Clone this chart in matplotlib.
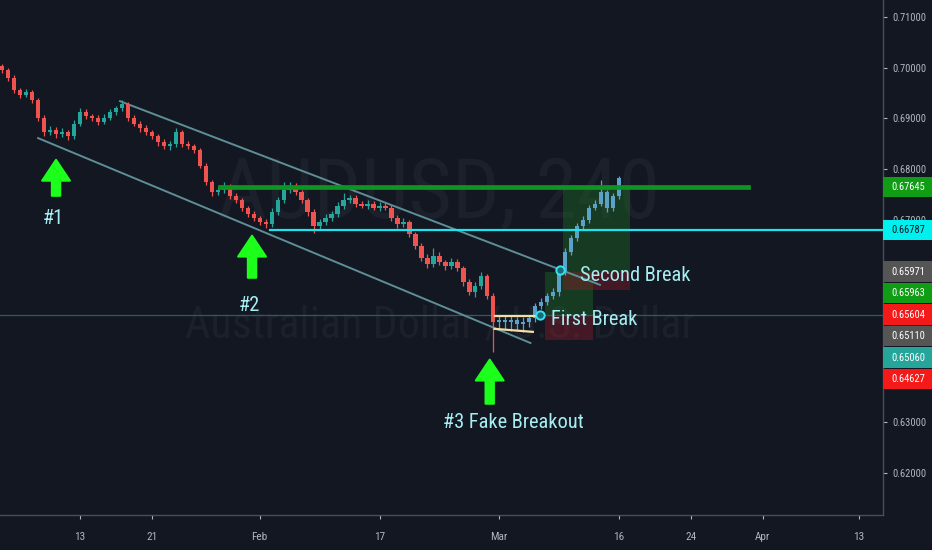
import numpy as np
import matplotlib
matplotlib.use("Agg")
import matplotlib.pyplot as plt
from matplotlib.patches import Rectangle
from matplotlib.transforms import blended_transform_factory

FONTS = ['Roboto Condensed', 'DejaVu Sans']
plt.rcParams['font.family'] = FONTS
plt.rcParams['font.stretch'] = 'condensed'

BG = "#131722"
UP = "#26a69a"
DOWN = "#ef5350"
BLUE = "#5aa2c8"
TXT = "#a6eef2"
PIP = 0.0001

# 240 min AUDUSD, two candles per trading day (day 0 = Jan 13)
first_open = 0.7003
closes_red = [0.6995, 0.6979, 0.6956, 0.6946, 0.6952, 0.6936, 0.6900, 0.6873, 0.6877, 0.6869,
              0.6873, 0.6865, 0.6889, 0.6912, 0.6904, 0.6900, 0.6893, 0.6900, 0.6912, 0.6920,
              0.6928, 0.6900, 0.6889, 0.6881, 0.6873, 0.6865, 0.6853, 0.6845, 0.6849, 0.6873,
              0.6849, 0.6845, 0.6837, 0.6806, 0.6774, 0.6754, 0.6758, 0.6766, 0.6746, 0.6738,
              0.6723, 0.6711, 0.6703, 0.6695, 0.6691, 0.6715, 0.6738, 0.6758, 0.6766, 0.6754,
              0.6738, 0.6715, 0.6687, 0.6695, 0.6703, 0.6711, 0.6727, 0.6738, 0.6742, 0.6731,
              0.6727, 0.6731, 0.6723, 0.6727, 0.6723, 0.6703, 0.6691, 0.6695, 0.6671, 0.6648,
              0.6624, 0.6612, 0.6628, 0.6616, 0.6608, 0.6616, 0.6604, 0.6576, 0.6557, 0.6568,
              0.6588, 0.6549, 0.6497]
wick_hi_red = [5, 4, 6, 5, 7, 5, 4, 6, 8, 6,
               7, 5, 7, 8, 6, 5, 7, 8, 6, 5,
               8, 5, 7, 5, 6, 5, 4, 6, 7, 8,
               5, 7, 5, 4, 5, 4, 7, 8, 5, 6,
               5, 4, 6, 5, 7, 8, 7, 16, 8, 6,
               5, 4, 5, 7, 8, 6, 8, 14, 7, 6,
               5, 7, 6, 8, 6, 5, 6, 8, 5, 4,
               5, 8, 16, 7, 5, 8, 6, 5, 6, 8,
               9, 5, 5]
wick_lo_red = [5, 6, 5, 6, 4, 5, 6, 7, 5, 8,
               5, 7, 5, 4, 6, 5, 7, 5, 4, 5,
               5, 6, 5, 7, 5, 6, 7, 5, 7, 5,
               6, 5, 6, 5, 6, 7, 5, 6, 5, 6,
               7, 6, 5, 6, 8, 5, 6, 5, 6, 5,
               6, 7, 14, 6, 5, 6, 5, 6, 5, 7,
               5, 6, 5, 7, 5, 6, 7, 5, 6, 7,
               6, 8, 5, 6, 7, 5, 6, 7, 6, 11,
               5, 6, 59]
closes_blue = [0.6501, 0.6497, 0.6501, 0.6493, 0.6497, 0.6505, 0.6529, 0.6537, 0.6549, 0.6557,
               0.6596, 0.6636, 0.6663, 0.6687, 0.6699, 0.6723, 0.6731, 0.6754, 0.6723, 0.6746,
               0.6782]
wick_hi_blue = [8, 8, 8, 6, 10, 4, 6, 8, 6, 8, 10, 8, 6, 6, 8, 6, 8, 24, 4, 6, 4]
wick_lo_blue = [16, 14, 18, 12, 16, 10, 8, 6, 6, 6, 8, 6, 6, 6, 5, 6, 5, 5, 8, 6, 5]

start_day = -6.5
bars_per_day = 2

tick_days = [0, 6, 15, 25, 35, 45, 51, 57, 65]
tick_names = ["13", "21", "Feb", "17", "Mar", "16", "24", "Apr", "13"]
price_ticks = [0.62, 0.63, 0.64, 0.65, 0.66, 0.67, 0.68, 0.69, 0.70, 0.71]
hidden_ticks = [0.64, 0.65, 0.66]

green_level = 0.67645
cyan_level = 0.66787
entry_level = 0.65110

# (price, box colour, text colour) for the axis labels
axis_labels = [(0.67645, "#109c14", "white"), (0.66787, "#00f0f0", BG),
               (0.65971, "#555555", "white"), (0.65963, "#109c14", "white"),
               (0.65604, "#f51a1a", "white"), (0.65110, "#555555", "white"),
               (0.65060, "#26a69a", "white"), (0.64627, "#f51a1a", "white")]

# long position tools: (start day, end day, entry, target, stop)
positions = [(38.8, 42.8, 0.65110, 0.65963, 0.64627),
             (40.3, 45.9, 0.65971, 0.67645, 0.65604)]

upper_channel = ([3.34, 43.4], [0.6934, 0.6571])
lower_channel = ([-3.5, 37.6], [0.6861, 0.6456])


fig = plt.figure(figsize=(9.32, 5.5), dpi=100, facecolor=BG)
ax = fig.add_axes([0, 35 / 550, 883 / 932, 515 / 550])
ax.set_facecolor(BG)
ax.patch.set_alpha(0)
renderer = fig.canvas.get_renderer()


def fit_width(t, width_px):
    w = t.get_window_extent(renderer).width
    t.set_fontsize(t.get_fontsize() * width_px / w)
    return t.get_fontsize()


# symbol watermark, drawn under the axes
wm1 = fig.text(439 / 932, 1 - 195 / 550, "AUDUSD, 240", color="#1c202b", fontsize=60,
               ha="center", va="center", zorder=-1)
fit_width(wm1, 442)
wm2 = fig.text(440 / 932, 1 - 326 / 550, "Australian Dollar / U.S. Dollar", color="#1c202b",
               fontsize=40, ha="center", va="center", zorder=-1)
fit_width(wm2, 510)

closes = np.array(closes_red + closes_blue)
opens = np.concatenate([[first_open], closes[:-1]])
highs = np.maximum(opens, closes) + np.array(wick_hi_red + wick_hi_blue) * PIP
lows = np.minimum(opens, closes) - np.array(wick_lo_red + wick_lo_blue) * PIP
days = start_day + np.arange(len(closes)) / bars_per_day
n_red = len(closes_red)

cols = []
for i in range(len(closes)):
    if i >= n_red:
        cols.append(BLUE)
    elif closes[i] >= opens[i]:
        cols.append(UP)
    else:
        cols.append(DOWN)

for x0, x1, entry, target, stop in positions:
    ax.add_patch(Rectangle((x0, entry), x1 - x0, target - entry, color="#1e6b26", alpha=0.42, lw=0, zorder=1))
    ax.add_patch(Rectangle((x0, stop), x1 - x0, entry - stop, color="#8a1e2a", alpha=0.42, lw=0, zorder=1))

ax.axhline(entry_level, color="#2f5a60", lw=0.9, zorder=1.5)
ax.plot(*upper_channel, color="#5e8e97", lw=1.4, zorder=2)
ax.plot(*lower_channel, color="#5e8e97", lw=1.4, zorder=2)

ax.vlines(days, lows, highs, colors=cols, lw=0.9, zorder=3)
body = np.maximum(np.abs(closes - opens), 0.00008)
ax.bar(days, body, bottom=np.minimum(opens, closes), width=0.36, color=cols, lw=0, zorder=3)

ax.plot([11.7, 55.8], [green_level, green_level], color="#0e9420", lw=3.4, zorder=4)
ax.plot([15.9, 70], [cyan_level, cyan_level], color="#19e6ee", lw=1.6, zorder=4)

ax.plot([34.6, 38.4], [0.6510, 0.6510], color="#f2dfa5", lw=1.6, zorder=4)
ax.plot([34.6, 37.8], [0.6484, 0.6478], color="#f2dfa5", lw=1.6, zorder=4)

ax.plot([38.4, 40.1], [0.6511, 0.6600], ls="none", marker="o", ms=6, mfc="#1c6a78", mec="#2ee6f0", mew=1.4, zorder=5)

arrows = [(-2.0, 0.6818, 0.6747), (14.36, 0.6668, 0.6585), (34.2, 0.6423, 0.6336)]
for x, tip, base in arrows:
    ax.annotate("", xy=(x, tip), xytext=(x, base),
                arrowprops=dict(arrowstyle="simple,head_width=1.0,head_length=0.75,tail_width=0.3",
                                color="#1bff1b", mutation_scale=20, shrinkA=0, shrinkB=0, lw=1.5,
                                joinstyle="round", capstyle="round"), zorder=6)

t3 = ax.text(36.2, 0.6298, "#3 Fake Breakout", color=TXT, fontsize=16, ha="center", va="center", zorder=6)
note_size = fit_width(t3, 141)
ax.text(-2.25, 0.6703, "#1", color=TXT, fontsize=note_size, ha="center", va="center", zorder=6)
ax.text(14.1, 0.6531, "#2", color=TXT, fontsize=note_size, ha="center", va="center", zorder=6)
ax.text(41.7, 0.6589, "Second Break", color=TXT, fontsize=note_size, ha="left", va="center", zorder=6)
ax.text(39.3, 0.6502, "First Break", color=TXT, fontsize=note_size, ha="left", va="center", zorder=6)

ax.set_xlim(-80 / 11.98, 803 / 11.98)
ax.set_ylim(0.6116, 0.7134)

probe = fig.text(0, 0, "0.71000", fontsize=8)
axis_size = fit_width(probe, 34)
probe.remove()

ax.set_xticks(tick_days)
ax.set_xticklabels(tick_names)
ax.set_yticks(price_ticks)
ax.set_yticklabels(["" if p in hidden_ticks else f"{p:.5f}" for p in price_ticks])
ax.yaxis.tick_right()
ax.tick_params(colors="#b2b5be", labelsize=axis_size, length=3, width=0.8)
ax.tick_params(axis="x", pad=9, labelsize=axis_size + 0.5)
ax.tick_params(axis="y", pad=4)
for s in ["top", "left"]:
    ax.spines[s].set_visible(False)
for s in ["right", "bottom"]:
    ax.spines[s].set_color("#4a4e59")
    ax.spines[s].set_linewidth(1)

# price labels on the axis, pushed down when they overlap
trans = blended_transform_factory(ax.transAxes, ax.transData)
box_h = 0.0040
prev = None
for price, bg, fg in axis_labels:
    y = price
    if prev is not None and prev - y < 0.00425:
        y = prev - 0.00425
    prev = y
    ax.add_patch(Rectangle((1.0, y - box_h / 2), 49 / 883, box_h, transform=trans,
                           facecolor=bg, edgecolor="none", clip_on=False, zorder=7))
    ax.text(1 + 8 / 883, y, f"{price:.5f}", transform=trans, color=fg, fontsize=axis_size,
            va="center", ha="left", clip_on=False, zorder=8)

plt.savefig("out.png", dpi=100, facecolor=BG)
